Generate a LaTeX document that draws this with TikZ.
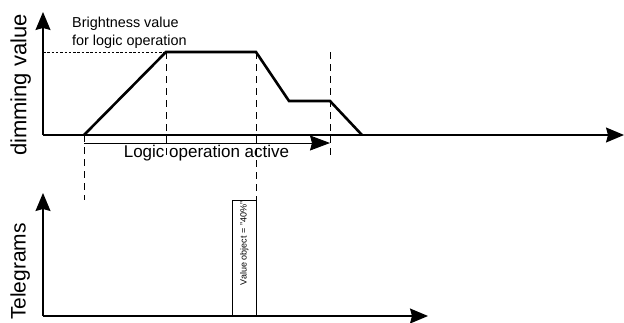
\documentclass[tikz,border=0pt]{standalone}
\usepackage{fontspec}
\setmainfont{Liberation Sans}
\usetikzlibrary{arrows.meta}

\begin{document}
\begin{tikzpicture}[x=1pt,y=-1pt,
    axis/.style={line width=1.2pt,-{Stealth[length=18pt,width=15pt,inset=2pt]}},
    curve/.style={line width=2.6pt,line join=miter},
    drop/.style={line width=0.9pt,dash pattern=on 7pt off 5pt},
    level/.style={line width=0.7pt,dash pattern=on 2.5pt off 1.8pt},
    ylabel/.style={inner sep=0pt,rotate=90,anchor=base}]
 \useasboundingbox (0,0) rectangle (624,322);
 % Draw axes
    \coordinate (o1) at (43,135);
    \coordinate (ytop1) at (43,12);
    \coordinate (xend1) at (624,135);
    \coordinate (o2) at (43,316);
    \coordinate (ytop2) at (43,193);
    \coordinate (xend2) at (428,316);
    \draw [axis] (o1) -- (ytop1);
    \draw [axis] (o1) -- (xend1);
    \draw [axis] (o2) -- (ytop2);
    \draw [axis] (o2) -- (xend2);
    \node [ylabel,font=\fontsize{22}{22}\selectfont] (dimlabel) at (26.5,85) {dimming value};
    \node [ylabel,font=\fontsize{21}{21}\selectfont] (tellabel) at (25.5,271.5) {Telegrams};

    % dimming curve
    \coordinate (p0) at (84,135);
    \coordinate (p1) at (166,52);
    \coordinate (p2) at (256,52);
    \coordinate (p3) at (289,101);
    \coordinate (p4) at (330,101);
    \coordinate (p5) at (362,135);
    \draw [curve] (p0) -- (p1) -- (p2) -- (p3) -- (p4) -- (p5);
    \coordinate (lvl) at (43,52);
    \draw [level] (lvl) -- (p1);
    \node [inner sep=0pt,anchor=base west,align=left,
           font=\fontsize{14.4}{17.5}\selectfont] (bright) at (72,45)
          {Brightness value\\for logic operation};

    % drop lines
    \coordinate (d0) at (84,200);
    \coordinate (d1) at (166,158);
    \coordinate (d2) at (256,200);
    \coordinate (d3) at (330,52);
    \coordinate (d4) at (330,159);
    \draw [drop] (p0) -- (d0);
    \draw [drop] (p1) -- (d1);
    \draw [drop] (p2) -- (d2);
    \draw [drop] (d3) -- (d4);

    % logic operation active
    \coordinate (a0) at (84,143);
    \coordinate (a1) at (330,143);
    \draw [line width=0.9pt,-{Stealth[length=20pt,width=15pt,inset=2pt]}] (a0) -- (a1);
    \node [inner sep=0pt,anchor=base,font=\fontsize{17}{17}\selectfont] (active) at (206.5,157)
          {Logic operation active};

    % telegram
    \draw [line width=0.8pt] (232,316) rectangle (256,200);
    \node [ylabel,font=\fontsize{9}{9}\selectfont] (tel) at (246.5,243.5) {Value object = "40\%"};
\end{tikzpicture}
\end{document}
